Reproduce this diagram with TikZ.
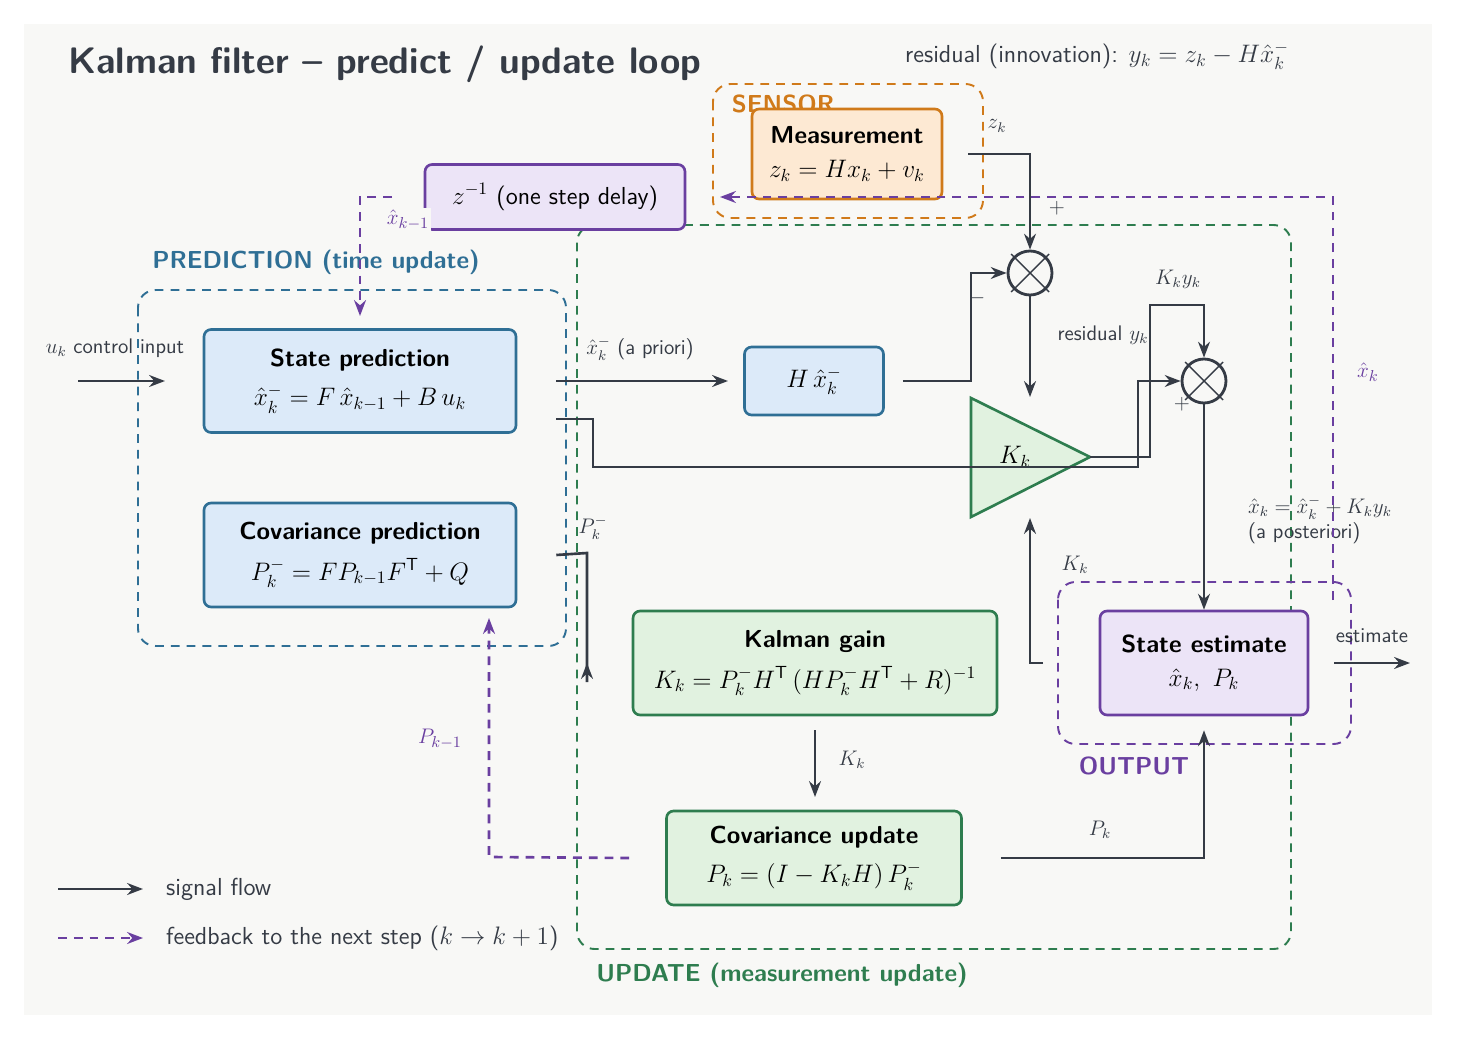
\documentclass[tikz,border=0pt]{standalone}
\usepackage{amsmath}
\usetikzlibrary{arrows.meta,calc}
\definecolor{ink}{HTML}{353B45}
\definecolor{bgc}{HTML}{F8F8F6}
\definecolor{predc}{HTML}{2F6F95}
\definecolor{predf}{HTML}{DCEAF9}
\definecolor{updc}{HTML}{2E7D4F}
\definecolor{updf}{HTML}{E1F2E0}
\definecolor{senc}{HTML}{D07A1A}
\definecolor{senf}{HTML}{FDE9D3}
\definecolor{outc}{HTML}{6A3FA0}
\definecolor{outf}{HTML}{ECE4F7}
\newcommand{\boxtitle}{\sffamily\bfseries\fontsize{14}{17}\selectfont}
\newcommand{\boxmath}{\fontsize{14.5}{17}\selectfont}
\tikzset{
  every node/.style={font=\sffamily},
  blockbox/.style={draw, rounded corners=4pt, line width=1.5pt, align=center, inner sep=2pt},
  groupbox/.style={draw, dashed, rounded corners=10pt, line width=1.1pt, dash pattern=on 5pt off 4pt},
  grouplbl/.style={font=\sffamily\bfseries\fontsize{14}{17}\selectfont},
  sig/.style={draw=ink, line width=1.5pt, -{Stealth[length=9pt]}},
  fb/.style={draw=outc, line width=1.5pt, dash pattern=on 5pt off 4pt, -{Stealth[length=9pt]}},
  lbl/.style={text=ink, font=\sffamily\fontsize{12}{14}\selectfont},
  fblbl/.style={text=outc, font=\fontsize{13}{15}\selectfont},
  sumnode/.style={circle, draw=ink, line width=1.6pt, minimum size=0.88cm, inner sep=0pt},
}
\begin{document}
\begin{tikzpicture}[x=0.02cm,y=-0.02cm]
\useasboundingbox (0,0) rectangle (1457,1040);
\fill[bgc] (24,24) rectangle (1432,1015);

% group frames
\draw[groupbox, predc] (138,290) rectangle (566,646);
\draw[groupbox, updc] (577,225) rectangle (1291,949);
\draw[groupbox, senc] (713,84) rectangle (983,218);
\draw[groupbox, outc] (1058,582) rectangle (1351,744);
\node[grouplbl, text=predc] (predlbl) at (316,262) {PREDICTION (time update)};
\node[grouplbl, text=updc] (updlbl) at (782,975) {UPDATE (measurement update)};
\node[grouplbl, text=senc] (senlbl) at (783,104) {SENSOR};
\node[grouplbl, text=outc] (outlbl) at (1134,766) {OUTPUT};

% title
\node[anchor=west, text=ink, font=\sffamily\bfseries\fontsize{21}{25}\selectfont] (title) at (62,64) {Kalman filter -- predict / update loop};
\node[lbl, font=\sffamily\fontsize{14}{17}\selectfont] (resid) at (1097,56) {residual (innovation): $y_k = z_k - H\hat{x}_k^{-}$};

% blocks
\node[blockbox, draw=predc, fill=predf, minimum width=6.24cm, minimum height=2.06cm] (spred) at (360,381)
  {{\boxtitle State prediction}\\[7pt] \boxmath$\hat{x}_k^{-} = F\,\hat{x}_{k-1} + B\,u_k$};
\node[blockbox, draw=predc, fill=predf, minimum width=6.24cm, minimum height=2.08cm] (cpred) at (360,555)
  {{\boxtitle Covariance prediction}\\[7pt] \boxmath$P_k^{-} = F P_{k-1} F^{\mathsf{T}} + Q$};
\node[blockbox, draw=predc, fill=predf, minimum width=2.78cm, minimum height=1.36cm] (hx) at (814,381)
  {\boxmath$H\,\hat{x}_k^{-}$};
\node[blockbox, draw=updc, fill=updf, minimum width=7.28cm, minimum height=2.08cm] (gain) at (815,663)
  {{\boxtitle Kalman gain}\\[7pt] \boxmath$K_k = P_k^{-} H^{\mathsf{T}}\,(H P_k^{-} H^{\mathsf{T}} + R)^{-1}$};
\node[blockbox, draw=updc, fill=updf, minimum width=5.9cm, minimum height=1.88cm] (cupd) at (814,858)
  {{\boxtitle Covariance update}\\[7pt] \boxmath$P_k = (I - K_k H)\,P_k^{-}$};
\node[blockbox, draw=senc, fill=senf, minimum width=3.8cm, minimum height=1.8cm] (meas) at (847,154)
  {{\boxtitle Measurement}\\[7pt] \boxmath$z_k = H x_k + v_k$};
\node[blockbox, draw=outc, fill=outf, minimum width=4.16cm, minimum height=2.08cm] (est) at (1204,663)
  {{\boxtitle State estimate}\\[7pt] \boxmath$\hat{x}_k,\ P_k$};
\node[blockbox, draw=outc, fill=outf, minimum width=5.2cm, minimum height=1.3cm] (delay) at (555,197)
  {\boxmath$z^{-1}$ {\fontsize{14}{17}\selectfont(one step delay)}};

% gain triangle and summing junctions
\filldraw[draw=updc, fill=updf, line width=1.5pt] (971,398) -- (1090,457) -- (971,517) -- cycle;
\node[font=\boxmath] (kgain) at (1015,457) {$K_k$};
\coordinate (kout) at (1090,457);
\node[sumnode] (sa) at (1030,273) {};
\node[sumnode] (sb) at (1204,381) {};
\foreach \s in {sa,sb}{
  \draw[ink, line width=0.8pt] ($(\s)+(-19,-19)$) -- ($(\s)+(19,19)$);
  \draw[ink, line width=0.8pt] ($(\s)+(-19,19)$) -- ($(\s)+(19,-19)$);
}

% signal flow
\coordinate (uin) at (78,381);
\draw[sig] (uin) -- (165,381);
\node[lbl] (ulbl) at (115,348) {$u_k$ control input};
\draw[sig] (spred.east) ++(39,0) -- (728,381);
\node[lbl] at (640,349) {$\hat{x}_k^{-}$ (a priori)};
\draw[sig] (hx.east) ++(18,0) -- (971,381) -- (971,273) -- (sa.west);
\node[lbl] at (977,298) {$-$};
\draw[sig] ($(meas.east)+(25,0)$) -| (sa.north);
\node[lbl] at (997,126) {$z_k$};
\node[lbl] at (1057,208) {$+$};
\draw[sig] (sa.south) -- (1030,397);
\node[lbl] at (1103,335) {residual $y_k$};
\draw[sig] (kout) -- (1150,457) -- (1150,305) -| (sb.north);
\node[lbl] at (1178,279) {$K_k y_k$};
\draw[sig] ($(spred.east)+(39,38)$) -- (593,419) -- (593,467) -- (1138,467) -- (1138,381) -- (sb.west);
\node[lbl] at (1182,404) {$+$};
\draw[sig] (sb.south) -- (est.north);
\node[lbl, align=left] at (1320,520) {$\hat{x}_k = \hat{x}_k^{-} + K_k y_k$\\(a posteriori)};
\draw[sig] (1043,663) -- (1030,663) -- (1030,518);
\node[lbl] at (1075,565) {$K_k$};
\draw[sig] (gain.south) ++(0,14) -- (815,797);
\node[lbl] at (852,760) {$K_k$};
\draw[sig] ($(cupd.east)+(38,0)$) -| ($(est.south)+(0,14)$);
\node[lbl] at (1100,830) {$P_k$};
\draw[sig] ($(cpred.east)+(39,0)$) -- (587,553) -- (587,682) -- (587,663);
\node[lbl] at (593,528) {$P_k^{-}$};
\draw[sig] (est.east) ++(25,0) -- (1410,663);
\node[lbl] at (1372,636) {estimate};

% feedback to next step
\draw[fb] ($(cupd.west)+(-36,0)$) -- (489,857) -- (489,618);
\node[fblbl] at (440,739) {$P_{k-1}$};
\draw[fb] (1333,600) -- (1333,197) -- (720,197);
\node[fblbl] at (1368,372) {$\hat{x}_k$};
\draw[fb] (392,197) -- (360,197) -- (360,316);
\node[fblbl, fill=bgc, inner sep=1pt] at (408,220) {$\hat{x}_{k-1}$};

% legend
\draw[sig] (58,889) -- (143,889);
\node[lbl, anchor=west, font=\sffamily\fontsize{14}{17}\selectfont] at (160,889) {signal flow};
\draw[fb] (58,938) -- (143,938);
\node[lbl, anchor=west, font=\sffamily\fontsize{14}{17}\selectfont] at (160,938) {feedback to the next step ($k \to k+1$)};
\end{tikzpicture}
\end{document}
